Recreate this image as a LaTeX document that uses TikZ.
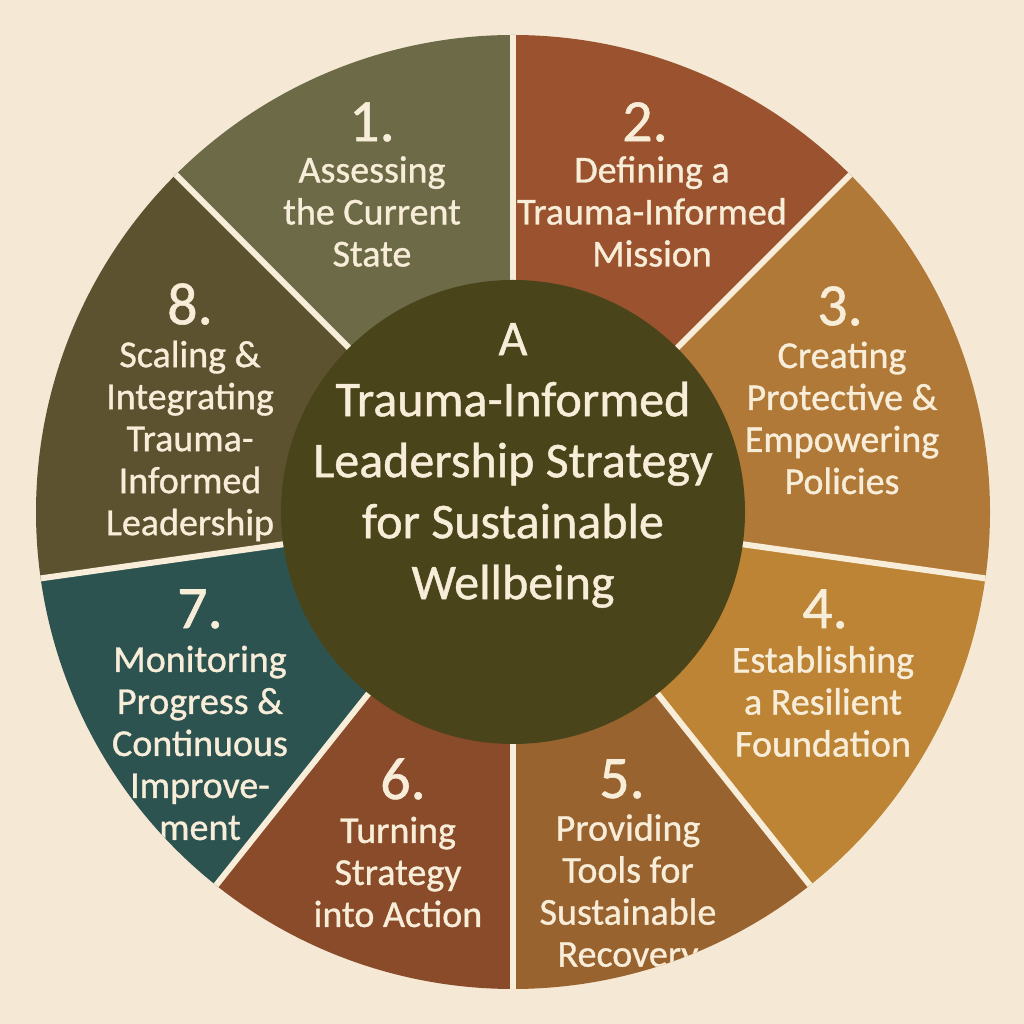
\documentclass[tikz,border=0pt]{standalone}
\usepackage{fontspec}
\setmainfont{Carlito}[FakeBold=0.9]
\definecolor{bg}{HTML}{F5E9D6}
\definecolor{ink}{HTML}{F8EDD8}
\definecolor{sone}{HTML}{6C6A47}
\definecolor{stwo}{HTML}{9A532E}
\definecolor{sthree}{HTML}{B17938}
\definecolor{sfour}{HTML}{BC8434}
\definecolor{sfive}{HTML}{98632F}
\definecolor{ssix}{HTML}{8A4B2A}
\definecolor{sseven}{HTML}{2D5350}
\definecolor{seight}{HTML}{5C5230}
\definecolor{core}{HTML}{4A441A}
\tikzset{
  num/.style={text=ink, font=\fontsize{60}{60}\selectfont, inner sep=0pt},
  body/.style={text=ink, align=center, font=\fontsize{38}{42}\selectfont, inner sep=0pt},
  title/.style={text=ink, align=center, font=\fontsize{50}{61}\selectfont, inner sep=0pt},
  sep/.style={draw=ink, line width=6pt},
}
\begin{document}
\begin{tikzpicture}[x=1pt,y=1pt]
\fill[bg] (0,0) rectangle (1024,1024);
\useasboundingbox (0,0) rectangle (1024,1024);
\coordinate (C) at (513,512);
% sector 1
\begin{scope}
\clip (C) -- ++(90:477) arc[start angle=90, end angle=135, radius=477] -- cycle;
\fill[sone] (0,0) rectangle (1024,1024);
\node[num] (n1) at (372,902) {1.};
\node[body] (t1) at (372,812.5) {Assessing\\the Current\\State};
\end{scope}
% sector 2
\begin{scope}
\clip (C) -- ++(45:477) arc[start angle=45, end angle=90, radius=477] -- cycle;
\fill[stwo] (0,0) rectangle (1024,1024);
\node[num] (n2) at (645,902) {2.};
\node[body] (t2) at (652,812.5) {Defining a\\Trauma-Informed\\Mission};
\end{scope}
% sector 3
\begin{scope}
\clip (C) -- ++(-8:477) arc[start angle=-8, end angle=45, radius=477] -- cycle;
\fill[sthree] (0,0) rectangle (1024,1024);
\node[num] (n3) at (840,718) {3.};
\node[body] (t3) at (842,606) {Creating\\Protective \&\\Empowering\\Policies};
\end{scope}
% sector 4
\begin{scope}
\clip (C) -- ++(-51.5:477) arc[start angle=-51.5, end angle=-8, radius=477] -- cycle;
\fill[sfour] (0,0) rectangle (1024,1024);
\node[num] (n4) at (825,415) {4.};
\node[body] (t4) at (823,322.5) {Establishing\\a Resilient\\Foundation};
\end{scope}
% sector 5
\begin{scope}
\clip (C) -- ++(-90:477) arc[start angle=-90, end angle=-51.5, radius=477] -- cycle;
\fill[sfive] (0,0) rectangle (1024,1024);
\node[num] (n5) at (622,245) {5.};
\node[body] (t5) at (628,130.5) {Providing\\Tools for\\Sustainable\\Recovery};
\end{scope}
% sector 6
\begin{scope}
\clip (C) -- ++(-128.5:477) arc[start angle=-128.5, end angle=-90, radius=477] -- cycle;
\fill[ssix] (0,0) rectangle (1024,1024);
\node[num] (n6) at (403,245) {6.};
\node[body] (t6) at (398,152) {Turning\\Strategy\\into Action};
\end{scope}
% sector 7
\begin{scope}
\clip (C) -- ++(-172:477) arc[start angle=-172, end angle=-128.5, radius=477] -- cycle;
\fill[sseven] (0,0) rectangle (1024,1024);
\node[num] (n7) at (200,415) {7.};
\node[body] (t7) at (200,281) {Monitoring\\Progress \&\\Continuous\\Improve-\\ment};
\end{scope}
% sector 8
\begin{scope}
\clip (C) -- ++(135:477) arc[start angle=135, end angle=188, radius=477] -- cycle;
\fill[seight] (0,0) rectangle (1024,1024);
\node[num] (n8) at (190,720) {8.};
\node[body] (t8) at (190,583) {Scaling \&\\Integrating\\Trauma-\\Informed\\Leadership};
\end{scope}
% separators
\foreach \a in {90,45,-8,-51.5,-90,-128.5,-172,135}
  \draw[sep] (C) -- ++(\a:477);
% centre
\node[circle, fill=core, minimum size=464pt, inner sep=0pt] (core) at (C) {};
\node[title] (ttl) at (513,558.5) {A\\Trauma-Informed\\Leadership Strategy\\for Sustainable\\Wellbeing};
\end{tikzpicture}
\end{document}
